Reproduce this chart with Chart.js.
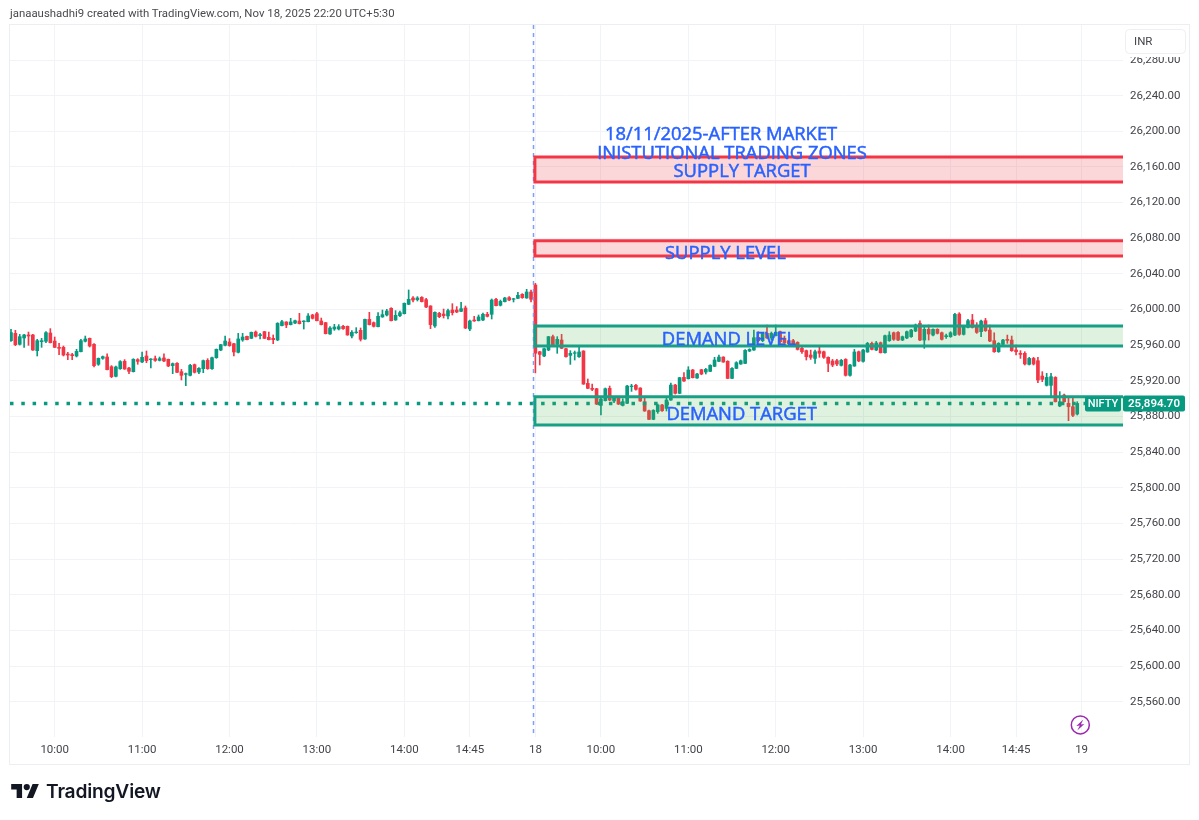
<!DOCTYPE html>
<html>
<head>
<meta charset="utf-8">
<title>NIFTY</title>
<script src="https://cdn.jsdelivr.net/npm/chart.js@4"></script>
<style>
    html, body { margin: 0; padding: 0; background: #fff; overflow: hidden; }
    #wrap { position: relative; width: 1199px; height: 820px; }
    #chart { position: absolute; left: 0; top: 0; }
    #credit { position: absolute; left: 10px; top: 6px; font: 11.4px Roboto, sans-serif; color: #4a4a4f; white-space: nowrap; }
    #logo { position: absolute; left: 11px; top: 784px; width: 28px; height: 14px; }
    #brand { position: absolute; left: 46px; top: 779px; font: 600 19.2px Inter, sans-serif; color: #131722; letter-spacing: -0.2px; }
</style>
</head>
<body>
<div id="wrap">
    <canvas id="chart" width="1199" height="820"></canvas>
    <div id="credit">janaaushadhi9 created with TradingView.com, Nov 18, 2025 22:20 UTC+5:30</div>
    <svg id="logo" viewBox="0 4 35.5 18"><path fill="#131722" d="M14 22H7V11H0V4h14v18zM28 22h-8l7.5-18h8L28 22z"/><circle fill="#131722" cx="20" cy="8" r="4"/></svg>
    <div id="brand">TradingView</div>
</div>
<script>
// 3 minute candles, Nov 17 from 09:30 then Nov 18 from 09:15
const opens = [
    25965.1, 25973.3, 25961.0, 25968.1, 25971.5, 25971.5, 25953.9, 25964.0, 25964.4, 25973.7,
    25964.7, 25957.6, 25957.6, 25950.1, 25949.4, 25947.9, 25952.8, 25964.4, 25967.7, 25961.0,
    25938.6, 25945.3, 25946.8, 25935.9, 25925.1, 25933.7, 25941.9, 25934.4, 25930.3, 25943.8,
    25941.2, 25947.9, 25943.8, 25944.9, 25943.0, 25945.7, 25944.2, 25937.1, 25939.7, 25930.3,
    25927.3, 25926.2, 25938.2, 25929.9, 25933.7, 25943.0, 25933.7, 25946.0, 25954.6, 25959.9,
    25963.6, 25961.7, 25952.0, 25965.9, 25970.0, 25967.7, 25974.8, 25970.7, 25975.2, 25968.9,
    25967.7, 25965.9, 25982.0, 25986.1, 25983.1, 25984.9, 25987.2, 25986.4, 25986.4, 25993.9,
    25995.4, 25987.2, 25985.3, 25972.6, 25978.2, 25978.2, 25981.2, 25981.2, 25970.3, 25974.1,
    25976.7, 25967.0, 25989.0, 25985.3, 25980.8, 25991.7, 25993.9, 26001.4, 25988.3, 25993.2,
    25995.4, 26005.9, 26013.0, 26011.1, 26013.7, 26011.1, 26004.0, 25981.6, 25995.8, 25995.0,
    25992.8, 25999.5, 25999.5, 25998.0, 26001.8, 25978.2, 25988.3, 25987.5, 25988.3, 25994.7,
    25994.7, 26011.5, 26004.8, 26008.9, 26013.4, 26011.5, 26012.6, 26017.1, 26013.0, 26019.7,
    26027.6, 25952.7, 25947.9, 25954.6, 25969.6, 25961.0, 25965.8, 25956.1, 25948.6, 25950.9,
    25947.1, 25953.5, 25917.2, 25911.6, 25911.2, 25892.5, 25897.8, 25911.6, 25897.4, 25900.4,
    25892.5, 25894.8, 25913.5, 25915.0, 25912.0, 25896.6, 25886.5, 25876.8, 25885.4, 25892.9,
    25889.1, 25898.5, 25915.3, 25906.0, 25923.9, 25922.4, 25932.2, 25923.2, 25932.5, 25929.9,
    25930.7, 25936.3, 25941.9, 25946.7, 25941.9, 25922.8, 25934.0, 25938.9, 25939.6, 25953.5,
    25954.6, 25968.8, 25965.1, 25973.3, 25968.1, 25970.7, 25975.2, 25967.7, 25965.1, 25965.1,
    25963.2, 25956.5, 25953.9, 25949.0, 25945.2, 25953.5, 25952.7, 25946.4, 25942.3, 25942.6,
    25937.4, 25944.1, 25926.2, 25936.6, 25952.7, 25941.9, 25952.4, 25962.1, 25954.6, 25962.8,
    25951.6, 25965.1, 25974.0, 25974.4, 25965.8, 25968.1, 25969.6, 25975.9, 25984.5, 25965.8,
    25977.8, 25971.4, 25977.8, 25974.0, 25969.6, 25969.6, 25971.4, 25995.0, 25972.2, 25980.0,
    25988.3, 25980.8, 25975.2, 25987.5, 25977.0, 25965.1, 25952.7, 25961.0, 25966.6, 25965.8,
    25954.6, 25950.9, 25950.9, 25938.5, 25945.2, 25942.6, 25925.4, 25915.0, 25915.0, 25923.9,
    25891.8, 25904.1, 25894.8, 25891.0, 25882.8
];
const highs = [
    25977.8, 25976.7, 25972.2, 25972.2, 25974.8, 25972.2, 25966.6, 25967.7, 25975.2, 25978.6,
    25969.2, 25962.1, 25959.1, 25952.0, 25950.9, 25955.4, 25966.6, 25970.3, 25968.1, 25961.7,
    25945.7, 25947.9, 25950.2, 25937.1, 25936.7, 25942.7, 25943.8, 25935.2, 25944.9, 25944.9,
    25952.4, 25953.5, 25944.9, 25947.9, 25946.8, 25950.2, 25944.5, 25940.1, 25940.4, 25932.9,
    25928.8, 25938.6, 25938.9, 25934.8, 25943.4, 25944.9, 25946.8, 25955.8, 25961.0, 25970.3,
    25967.4, 25962.1, 25973.3, 25973.3, 25970.3, 25974.8, 25976.0, 25973.3, 25975.6, 25974.8,
    25971.5, 25985.3, 25987.9, 25986.4, 25990.2, 25988.3, 25995.8, 25987.5, 25995.4, 25994.7,
    25996.9, 25990.5, 25985.7, 25980.8, 25983.4, 25983.1, 25982.3, 25981.6, 25976.3, 25979.7,
    25979.3, 25989.4, 25996.9, 25986.1, 25996.5, 25999.5, 26000.3, 26002.1, 25998.8, 25998.4,
    26007.4, 26022.0, 26014.5, 26014.5, 26014.5, 26012.6, 26004.4, 25997.6, 25996.9, 26000.6,
    26000.6, 26006.6, 26003.3, 26008.1, 26004.0, 25988.3, 25992.4, 25993.9, 25996.1, 25996.9,
    26011.9, 26012.6, 26010.7, 26013.7, 26014.5, 26012.6, 26019.3, 26017.9, 26022.7, 26022.0,
    26029.4, 25953.1, 25956.8, 25969.9, 25971.4, 25969.6, 25972.2, 25956.5, 25953.9, 25953.5,
    25957.6, 25953.9, 25922.1, 25916.4, 25911.6, 25900.4, 25912.0, 25914.2, 25902.2, 25901.1,
    25900.0, 25915.0, 25916.1, 25916.1, 25912.3, 25901.5, 25887.3, 25887.7, 25894.0, 25893.6,
    25900.4, 25917.6, 25916.1, 25923.9, 25929.2, 25935.9, 25932.9, 25928.4, 25932.9, 25934.0,
    25938.1, 25946.4, 25949.0, 25947.1, 25942.6, 25934.8, 25941.5, 25943.4, 25955.0, 25956.1,
    25977.0, 25975.2, 25974.0, 25982.7, 25974.8, 25982.7, 25975.9, 25970.3, 25965.8, 25966.6,
    25963.9, 25957.6, 25954.6, 25954.6, 25954.6, 25958.3, 25953.5, 25947.1, 25944.1, 25944.1,
    25944.1, 25944.9, 25938.5, 25955.3, 25953.5, 25955.3, 25963.2, 25963.6, 25964.3, 25963.6,
    25971.4, 25975.2, 25974.8, 25975.2, 25970.3, 25975.9, 25977.8, 25983.8, 25987.5, 25980.8,
    25982.7, 25978.5, 25978.5, 25974.8, 25972.6, 25975.2, 25995.7, 25996.5, 25982.3, 25989.0,
    25994.6, 25985.3, 25988.3, 25990.1, 25982.7, 25974.0, 25962.8, 25966.6, 25971.4, 25970.3,
    25960.2, 25953.9, 25952.7, 25946.4, 25946.4, 25946.4, 25930.3, 25928.4, 25928.4, 25924.7,
    25907.9, 25905.2, 25900.4, 25900.4, 25896.6
];
const lows = [
    25964.4, 25959.5, 25960.2, 25957.6, 25959.9, 25954.3, 25947.9, 25957.6, 25962.9, 25962.5,
    25957.3, 25949.4, 25947.9, 25943.8, 25943.8, 25946.8, 25952.4, 25963.6, 25958.0, 25935.6,
    25937.4, 25944.2, 25932.2, 25923.6, 25924.3, 25932.9, 25932.9, 25928.1, 25929.9, 25938.6,
    25940.4, 25940.4, 25934.4, 25941.9, 25942.3, 25941.6, 25935.9, 25928.1, 25929.2, 25921.0,
    25914.6, 25925.5, 25928.8, 25928.1, 25929.2, 25932.9, 25932.9, 25945.3, 25953.9, 25959.1,
    25958.8, 25947.9, 25951.3, 25964.4, 25965.9, 25967.4, 25969.2, 25967.0, 25967.4, 25965.9,
    25961.7, 25965.1, 25981.6, 25979.7, 25982.7, 25984.2, 25983.8, 25978.2, 25986.1, 25989.4,
    25987.2, 25982.7, 25972.6, 25972.2, 25976.7, 25977.1, 25977.8, 25971.1, 25968.1, 25973.3,
    25964.7, 25966.6, 25982.7, 25980.4, 25980.4, 25991.3, 25992.8, 25987.2, 25987.9, 25992.0,
    25995.0, 26005.5, 26008.5, 26009.6, 26008.5, 26002.1, 25978.6, 25980.1, 25990.9, 25990.5,
    25989.4, 25993.9, 25996.5, 25997.6, 25978.6, 25976.3, 25986.8, 25987.2, 25987.5, 25991.7,
    25989.4, 26004.0, 26004.0, 26008.5, 26010.0, 26008.5, 26012.2, 26012.6, 26012.6, 26008.5,
    25929.0, 25937.8, 25947.1, 25953.9, 25959.5, 25950.9, 25956.1, 25946.7, 25938.5, 25943.4,
    25946.4, 25916.1, 25911.2, 25909.0, 25893.3, 25881.7, 25897.4, 25897.8, 25895.5, 25893.3,
    25891.8, 25894.4, 25908.2, 25909.7, 25897.0, 25885.8, 25876.4, 25876.4, 25883.5, 25885.8,
    25886.2, 25898.1, 25905.2, 25905.6, 25919.4, 25922.1, 25923.2, 25922.8, 25926.9, 25927.7,
    25930.3, 25935.9, 25941.5, 25940.8, 25922.4, 25922.4, 25933.7, 25938.5, 25939.3, 25952.7,
    25954.2, 25963.9, 25963.9, 25967.7, 25965.8, 25970.3, 25962.1, 25962.1, 25961.0, 25960.6,
    25954.6, 25950.9, 25943.4, 25944.1, 25939.6, 25946.4, 25945.2, 25930.3, 25935.9, 25937.0,
    25936.6, 25925.4, 25925.4, 25936.3, 25941.5, 25941.1, 25952.0, 25954.6, 25953.9, 25951.2,
    25951.2, 25964.3, 25965.4, 25965.1, 25965.1, 25967.3, 25968.8, 25975.2, 25965.1, 25956.5,
    25965.8, 25970.3, 25972.6, 25965.8, 25967.7, 25968.8, 25970.7, 25971.1, 25971.4, 25979.3,
    25979.3, 25973.3, 25969.6, 25975.5, 25963.9, 25952.0, 25952.0, 25959.8, 25962.1, 25953.1,
    25949.0, 25945.2, 25937.8, 25937.8, 25937.8, 25917.9, 25919.1, 25914.2, 25902.2, 25896.3,
    25891.0, 25896.3, 25875.3, 25879.8, 25881.7
];
const closes = [
    25974.1, 25960.6, 25969.6, 25971.5, 25970.3, 25954.6, 25965.1, 25965.1, 25974.1, 25962.9,
    25957.6, 25956.5, 25949.0, 25949.0, 25948.3, 25953.1, 25965.1, 25967.0, 25959.1, 25937.1,
    25945.3, 25947.2, 25932.6, 25924.7, 25935.6, 25941.6, 25933.3, 25930.7, 25944.2, 25941.9,
    25946.4, 25942.7, 25944.5, 25943.0, 25944.9, 25942.3, 25936.7, 25939.3, 25929.6, 25926.2,
    25928.1, 25937.4, 25929.6, 25934.1, 25942.7, 25933.7, 25946.0, 25955.4, 25960.6, 25964.7,
    25959.5, 25952.4, 25967.0, 25969.2, 25966.2, 25974.5, 25970.0, 25971.8, 25967.7, 25966.2,
    25966.2, 25984.6, 25986.4, 25982.7, 25986.1, 25987.5, 25984.2, 25987.2, 25992.8, 25990.2,
    25987.5, 25983.1, 25973.0, 25979.3, 25980.4, 25980.8, 25978.6, 25971.5, 25974.5, 25974.8,
    25966.6, 25989.0, 25983.1, 25981.2, 25992.4, 25994.3, 25998.4, 25987.5, 25993.5, 25996.5,
    26007.0, 26011.5, 26010.7, 26013.0, 26008.9, 26002.9, 25983.1, 25996.9, 25992.0, 25993.2,
    25998.8, 25996.5, 25997.3, 26001.0, 25979.3, 25987.2, 25987.2, 25991.7, 25994.7, 25992.4,
    26010.7, 26004.4, 26009.2, 26013.0, 26010.7, 26012.2, 26016.0, 26013.4, 26019.7, 26011.5,
    25951.0, 25949.7, 25956.1, 25969.6, 25960.2, 25966.6, 25956.5, 25947.1, 25950.9, 25951.6,
    25952.4, 25916.4, 25911.6, 25910.5, 25894.0, 25899.6, 25911.2, 25898.5, 25900.7, 25894.0,
    25896.6, 25914.2, 25914.2, 25910.5, 25897.4, 25886.2, 25876.8, 25886.9, 25892.9, 25886.5,
    25898.5, 25915.3, 25906.0, 25923.6, 25919.8, 25932.2, 25923.6, 25927.7, 25927.7, 25932.9,
    25937.4, 25943.4, 25946.7, 25941.1, 25922.8, 25934.0, 25940.4, 25942.6, 25954.2, 25955.3,
    25968.4, 25965.1, 25973.3, 25968.1, 25973.3, 25974.4, 25963.9, 25962.8, 25961.7, 25961.3,
    25955.3, 25952.7, 25947.1, 25946.4, 25952.7, 25950.9, 25946.4, 25939.6, 25937.8, 25938.9,
    25943.0, 25926.2, 25937.8, 25952.4, 25942.3, 25954.6, 25962.1, 25955.3, 25962.5, 25951.6,
    25970.7, 25971.4, 25966.6, 25965.8, 25969.6, 25975.2, 25977.0, 25982.7, 25965.8, 25977.8,
    25972.6, 25977.8, 25973.3, 25966.6, 25970.7, 25974.0, 25994.6, 25972.2, 25981.5, 25987.5,
    25980.0, 25974.4, 25987.1, 25976.3, 25964.7, 25952.7, 25962.1, 25965.8, 25965.4, 25953.9,
    25952.7, 25949.7, 25938.9, 25945.2, 25938.9, 25920.9, 25921.7, 25923.9, 25924.7, 25896.6,
    25896.6, 25896.6, 25891.0, 25881.3, 25894.7
];

const tickIndex = [10, 30, 50, 70, 90, 105, 120, 135, 155, 175, 195, 215, 230, 245];
const tickLabels = ['10:00', '11:00', '12:00', '13:00', '14:00', '14:45', '18', '10:00', '11:00', '12:00', '13:00', '14:00', '14:45', '19'];
const priceTicks = [26280, 26240, 26200, 26160, 26120, 26080, 26040, 26000, 25960, 25920, 25880, 25840, 25800, 25760, 25720, 25680, 25640, 25600, 25560];

const lastPrice = 25894.7;
const sessionMark = 119.55;

const zoneHighs = [26171.2, 26077.3, 25981.5, 25902.2];
const zoneLows = [26143.1, 26060.1, 25959.1, 25870.4];
const zoneIsSupply = [true, true, false, false];
const zoneStart = 120;

const noteTexts = ['18/11/2025-AFTER MARKET', 'INISTUTIONAL TRADING ZONES', 'SUPPLY TARGET', 'SUPPLY LEVEL', 'DEMAND LEVEL', 'DEMAND TARGET'];
const noteIndex = [162.5, 165, 167.3, 163.5, 164.3, 167.2];
const notePrices = [26197, 26175.7, 26155.5, 26063.5, 25967, 25882.8];

const UP = '#089981';
const DOWN = '#F23645';
const GRID = '#f2f3f6';
const AXIS_TEXT = '#43444a';
const AXIS_FONT = 'Roboto, sans-serif';
const NOTE_FONT = '"Open Sans", sans-serif';

const xMin = -0.229;
const xMax = 254.47;

function candleColor(ctx) {
    const i = ctx.dataIndex;
    return closes[i] >= opens[i] ? UP : DOWN;
}

const drawings = {
    id: 'drawings',
    afterDatasetsDraw(chart) {
        const { ctx, scales: { x, y }, chartArea: area } = chart;
        ctx.save();

        // session separator
        ctx.strokeStyle = '#7f9ff5';
        ctx.lineWidth = 1.5;
        ctx.setLineDash([4, 4]);
        const sx = Math.round(x.getPixelForValue(sessionMark)) + 0.5;
        ctx.beginPath();
        ctx.moveTo(sx, area.top);
        ctx.lineTo(sx, area.bottom);
        ctx.stroke();
        ctx.setLineDash([]);

        // zones
        zoneHighs.forEach((hi, n) => {
            const left = x.getPixelForValue(zoneStart) - 0.5;
            const top = y.getPixelForValue(hi);
            const bottom = y.getPixelForValue(zoneLows[n]);
            const right = area.right;
            ctx.fillStyle = zoneIsSupply[n] ? 'rgba(242, 54, 69, 0.2)' : 'rgba(76, 175, 80, 0.18)';
            ctx.fillRect(left, top, right - left, bottom - top);
            ctx.strokeStyle = zoneIsSupply[n] ? DOWN : '#17a085';
            ctx.lineWidth = 3;
            ctx.beginPath();
            ctx.moveTo(right, top);
            ctx.lineTo(left, top);
            ctx.lineTo(left, bottom);
            ctx.lineTo(right, bottom);
            ctx.stroke();
        });

        // text notes, the thin stroke gives the heavier look of the original
        ctx.fillStyle = '#2962FF';
        ctx.strokeStyle = '#2962FF';
        ctx.lineWidth = 0.5;
        ctx.font = '18.4px ' + NOTE_FONT;
        ctx.textAlign = 'center';
        ctx.textBaseline = 'middle';
        noteTexts.forEach((t, n) => {
            const tx = x.getPixelForValue(noteIndex[n]);
            const ty = y.getPixelForValue(notePrices[n]) + 1;
            ctx.fillText(t, tx, ty);
            ctx.strokeText(t, tx, ty);
        });

        // symbol and price tags
        const py = y.getPixelForValue(lastPrice);
        ctx.fillStyle = UP;
        ctx.beginPath();
        ctx.roundRect(area.right - 38, py - 7, 36, 15, 2);
        ctx.fill();
        ctx.beginPath();
        ctx.roundRect(area.right, py - 8, 62, 16, 2);
        ctx.fill();
        ctx.fillStyle = '#fff';
        ctx.textBaseline = 'middle';
        ctx.font = '500 11px ' + AXIS_FONT;
        ctx.fillText('NIFTY', area.right - 20, py + 1);
        ctx.font = '600 11.5px ' + AXIS_FONT;
        ctx.fillText(lastPrice.toLocaleString('en-US', { minimumFractionDigits: 2 }), area.right + 31, py + 1);

        // currency box
        ctx.fillStyle = '#fff';
        ctx.fillRect(1124, 29, 64, 28);
        ctx.strokeStyle = '#eeeff2';
        ctx.lineWidth = 1;
        ctx.beginPath();
        ctx.roundRect(1125.5, 29.5, 60, 24, 4);
        ctx.stroke();
        ctx.fillStyle = AXIS_TEXT;
        ctx.font = '11.5px ' + AXIS_FONT;
        ctx.textAlign = 'left';
        ctx.fillText('INR', 1134, 42);

        // event marker
        const ex = x.getPixelForValue(244.7);
        const ey = y.getPixelForValue(25534);
        ctx.strokeStyle = '#9C27B0';
        ctx.lineWidth = 1.5;
        ctx.beginPath();
        ctx.arc(ex, ey, 9, 0, Math.PI * 2);
        ctx.stroke();
        ctx.fillStyle = '#9C27B0';
        ctx.beginPath();
        ctx.moveTo(ex + 3, ey - 5.5);
        ctx.lineTo(ex - 4, ey + 1);
        ctx.lineTo(ex - 0.5, ey + 0.5);
        ctx.lineTo(ex - 3, ey + 5.5);
        ctx.lineTo(ex + 4, ey - 1);
        ctx.lineTo(ex + 0.5, ey - 0.5);
        ctx.closePath();
        ctx.fill();

        // outer frame
        ctx.strokeStyle = '#eceef2';
        ctx.lineWidth = 1;
        ctx.strokeRect(9.5, 24.5, 1180, 740);

        ctx.restore();
    }
};

const candleIndex = opens.map((_, i) => i);

new Chart(document.getElementById('chart'), {
    type: 'bar',
    data: {
        datasets: [
            {
                label: 'last',
                type: 'line',
                data: [{ x: xMin, y: lastPrice }, { x: xMax, y: lastPrice }],
                borderColor: UP,
                borderWidth: 3.5,
                borderDash: [3.5, 7.8],
                pointRadius: 0,
                order: 0
            },
            {
                label: 'bodies',
                data: candleIndex.map(i => ({ x: i, y: [opens[i], closes[i]] })),
                backgroundColor: candleColor,
                barThickness: 3,
                grouped: false,
                borderSkipped: false,
                order: 1
            },
            {
                label: 'wicks',
                data: candleIndex.map(i => ({ x: i, y: [lows[i], highs[i]] })),
                backgroundColor: candleColor,
                barThickness: 1,
                grouped: false,
                borderSkipped: false,
                order: 2
            }
        ]
    },
    options: {
        responsive: false,
        devicePixelRatio: 1,
        animation: false,
        events: [],
        layout: { padding: { left: 10, right: 10, top: 25, bottom: 56 } },
        plugins: { legend: { display: false }, tooltip: { enabled: false } },
        scales: {
            x: {
                type: 'linear',
                min: xMin,
                max: xMax,
                offset: false,
                border: { display: false },
                grid: { color: GRID, offset: false, drawTicks: false },
                afterBuildTicks: axis => { axis.ticks = tickIndex.map(v => ({ value: v })); },
                afterFit: axis => { axis.height = 27; },
                ticks: {
                    autoSkip: false,
                    maxRotation: 0,
                    padding: 6,
                    color: AXIS_TEXT,
                    font: { family: AXIS_FONT, size: 11.5 },
                    callback: v => tickLabels[tickIndex.indexOf(v)]
                }
            },
            y: {
                position: 'right',
                min: 25520.4,
                max: 26319.3,
                border: { display: false },
                grid: { color: GRID, drawTicks: false },
                afterBuildTicks: axis => { axis.ticks = priceTicks.map(v => ({ value: v })); },
                afterFit: axis => { axis.width = 66; },
                ticks: {
                    autoSkip: false,
                    padding: 7,
                    color: AXIS_TEXT,
                    font: { family: AXIS_FONT, size: 11.5 },
                    callback: v => v.toLocaleString('en-US', { minimumFractionDigits: 2 })
                }
            }
        }
    },
    plugins: [drawings]
});
</script>
</body>
</html>
